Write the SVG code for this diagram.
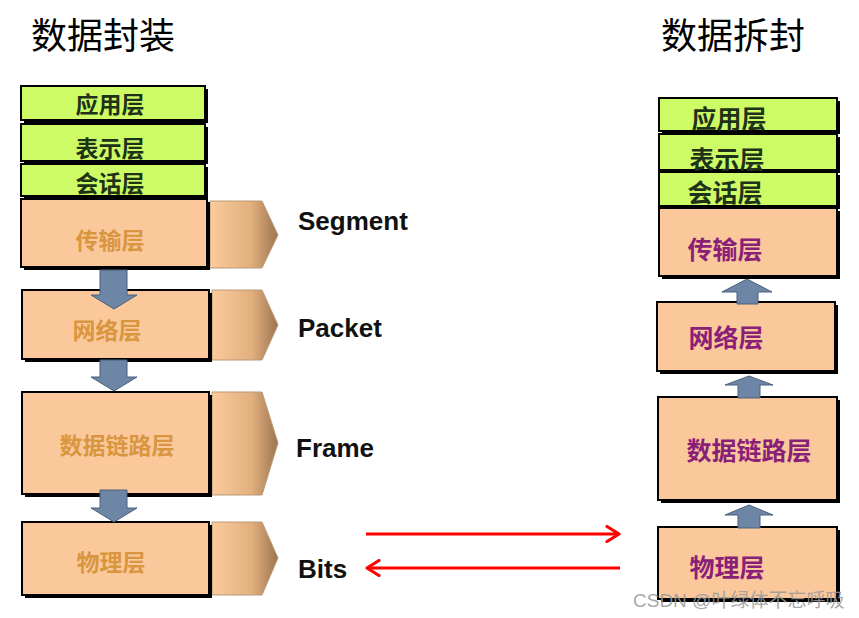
<svg xmlns="http://www.w3.org/2000/svg" width="859" height="618" viewBox="0 0 859 618">
<defs>
<linearGradient id="tabg" x1="0" y1="0" x2="1" y2="0">
<stop offset="0" stop-color="#fbcb9c"/>
<stop offset="0.6" stop-color="#e2b07e"/>
<stop offset="1" stop-color="#9c7450"/>
</linearGradient>
<marker id="ah" viewBox="0 0 16 18" refX="14" refY="9" markerWidth="16" markerHeight="18" markerUnits="userSpaceOnUse" orient="auto-start-reverse">
<path d="M2,1.5 L14,9 L2,16.5" fill="none" stroke="#ff0000" stroke-width="3.2" stroke-linecap="round" stroke-linejoin="round"/>
</marker>
</defs>
<style>
.sh{fill:#000}
.g{fill:#ccfb66;stroke:#000;stroke-width:2}
.o{fill:#fbc89b;stroke:#000;stroke-width:2}
.tab{fill:url(#tabg);stroke:#b89a7a;stroke-width:1}
.ar{fill:#6e86a5;stroke:#4a5f7c;stroke-width:1}
.title{font-family:"Noto Sans CJK SC",sans-serif;font-size:36px;fill:#000}
.lg{font-family:"Noto Sans CJK SC",sans-serif;font-size:23px;font-weight:bold;fill:#1e3218;text-anchor:middle}
.lo{font-family:"Noto Sans CJK SC",sans-serif;font-size:23px;font-weight:bold;fill:#d9963e;text-anchor:middle}
.rg{font-family:"Noto Sans CJK SC",sans-serif;font-size:25px;font-weight:bold;fill:#1e3218;text-anchor:middle}
.ro{font-family:"Noto Sans CJK SC",sans-serif;font-size:25px;font-weight:bold;fill:#8a1f78;text-anchor:middle}
.pdu{font-family:"Liberation Sans",Arial,sans-serif;font-size:26px;font-weight:bold;fill:#111}
.wm{font-family:"Liberation Sans","Noto Sans CJK SC",sans-serif;font-size:19px;fill:#9a9a9a;opacity:0.85}
.red{stroke:#ff0000;stroke-width:3;fill:none}
</style>

<text class="title" x="31" y="49">数据封装</text>
<text class="title" x="661" y="49">数据拆封</text>

<g id="connectors">
<line class="red" x1="366" y1="534" x2="619" y2="534" marker-end="url(#ah)"/>
<line class="red" x1="620" y1="568" x2="367" y2="568" marker-end="url(#ah)"/>
</g>

<g id="left-stack">
<g id="l-app">
<rect class="sh" x="24" y="89" width="184" height="34"/>
<rect class="g" x="21" y="86" width="184" height="34"/>
<text class="lg" x="110" y="113">应用层</text>
</g>
<g id="l-pres">
<rect class="sh" x="24" y="127" width="184" height="37"/>
<rect class="g" x="21" y="124" width="184" height="37"/>
<text class="lg" x="110" y="157">表示层</text>
</g>
<g id="l-sess">
<rect class="sh" x="24" y="167" width="184" height="32"/>
<rect class="g" x="21" y="164" width="184" height="32"/>
<text class="lg" x="110" y="192">会话层</text>
</g>
<g id="l-trans">
<polygon class="tab" points="210,201 262,201 278,235 262,268 210,268"/>
<rect class="sh" x="24" y="202" width="186" height="68"/>
<rect class="o" x="21" y="199" width="186" height="68"/>
<text class="lo" x="110" y="249">传输层</text>
<text class="pdu" x="298" y="230">Segment</text>
</g>
<g id="l-net">
<polygon class="tab" points="212,290 262,290 278,325 262,360 212,360"/>
<rect class="sh" x="25" y="293" width="187" height="69"/>
<rect class="o" x="22" y="290" width="187" height="69"/>
<text class="lo" x="107" y="339">网络层</text>
<text class="pdu" x="298" y="337">Packet</text>
</g>
<g id="l-link">
<polygon class="tab" points="212,392 262,392 278,443 262,495 212,495"/>
<rect class="sh" x="25" y="395" width="187" height="102"/>
<rect class="o" x="22" y="392" width="187" height="102"/>
<text class="lo" x="117" y="454">数据链路层</text>
<text class="pdu" x="296" y="457">Frame</text>
</g>
<g id="l-phys">
<polygon class="tab" points="212,522 262,522 278,558 262,595 212,595"/>
<rect class="sh" x="25" y="525" width="187" height="73"/>
<rect class="o" x="22" y="522" width="187" height="73"/>
<text class="lo" x="111" y="571">物理层</text>
<text class="pdu" x="298" y="578">Bits</text>
</g>
<g id="l-arrows">
<polygon class="ar" points="100,270 127,270 127,295 137,295 114,309 91,295 100,295"/>
<polygon class="ar" points="100,360 127,360 127,377 137,377 114,391 91,377 100,377"/>
<polygon class="ar" points="100,490 127,490 127,508 137,508 114,522 91,508 100,508"/>
</g>
</g>

<g id="right-stack">
<g id="r-app">
<rect class="sh" x="662" y="101" width="178" height="33"/>
<rect class="g" x="659" y="98" width="178" height="33"/>
<text class="rg" x="729" y="128">应用层</text>
</g>
<g id="r-pres">
<rect class="sh" x="662" y="137" width="178" height="36"/>
<rect class="g" x="659" y="134" width="178" height="36"/>
<text class="rg" x="727" y="169">表示层</text>
</g>
<g id="r-sess">
<rect class="sh" x="662" y="175" width="178" height="34"/>
<rect class="g" x="659" y="172" width="178" height="34"/>
<text class="rg" x="725" y="202">会话层</text>
</g>
<g id="r-trans">
<rect class="sh" x="662" y="211" width="178" height="68"/>
<rect class="o" x="659" y="208" width="178" height="68"/>
<text class="ro" x="725" y="259">传输层</text>
</g>
<g id="r-net">
<rect class="sh" x="660" y="305" width="178" height="69"/>
<rect class="o" x="657" y="302" width="178" height="69"/>
<text class="ro" x="726" y="347">网络层</text>
</g>
<g id="r-link">
<rect class="sh" x="661" y="400" width="179" height="103"/>
<rect class="o" x="658" y="397" width="179" height="103"/>
<text class="ro" x="749" y="460">数据链路层</text>
</g>
<g id="r-phys">
<rect class="sh" x="661" y="530" width="179" height="72"/>
<rect class="o" x="658" y="527" width="179" height="72"/>
<text class="ro" x="727" y="577">物理层</text>
</g>
<g id="r-arrows">
<polygon class="ar" points="737,304 758,304 758,292 772,292 747,279 722,292 737,292"/>
<polygon class="ar" points="738,398 760,398 760,385 773,385 749,376 725,385 738,385"/>
<polygon class="ar" points="738,528 760,528 760,515 773,515 749,505 725,515 738,515"/>
</g>
</g>

<text class="wm" x="633" y="607">CSDN @叶绿体不忘呼吸</text>
</svg>
